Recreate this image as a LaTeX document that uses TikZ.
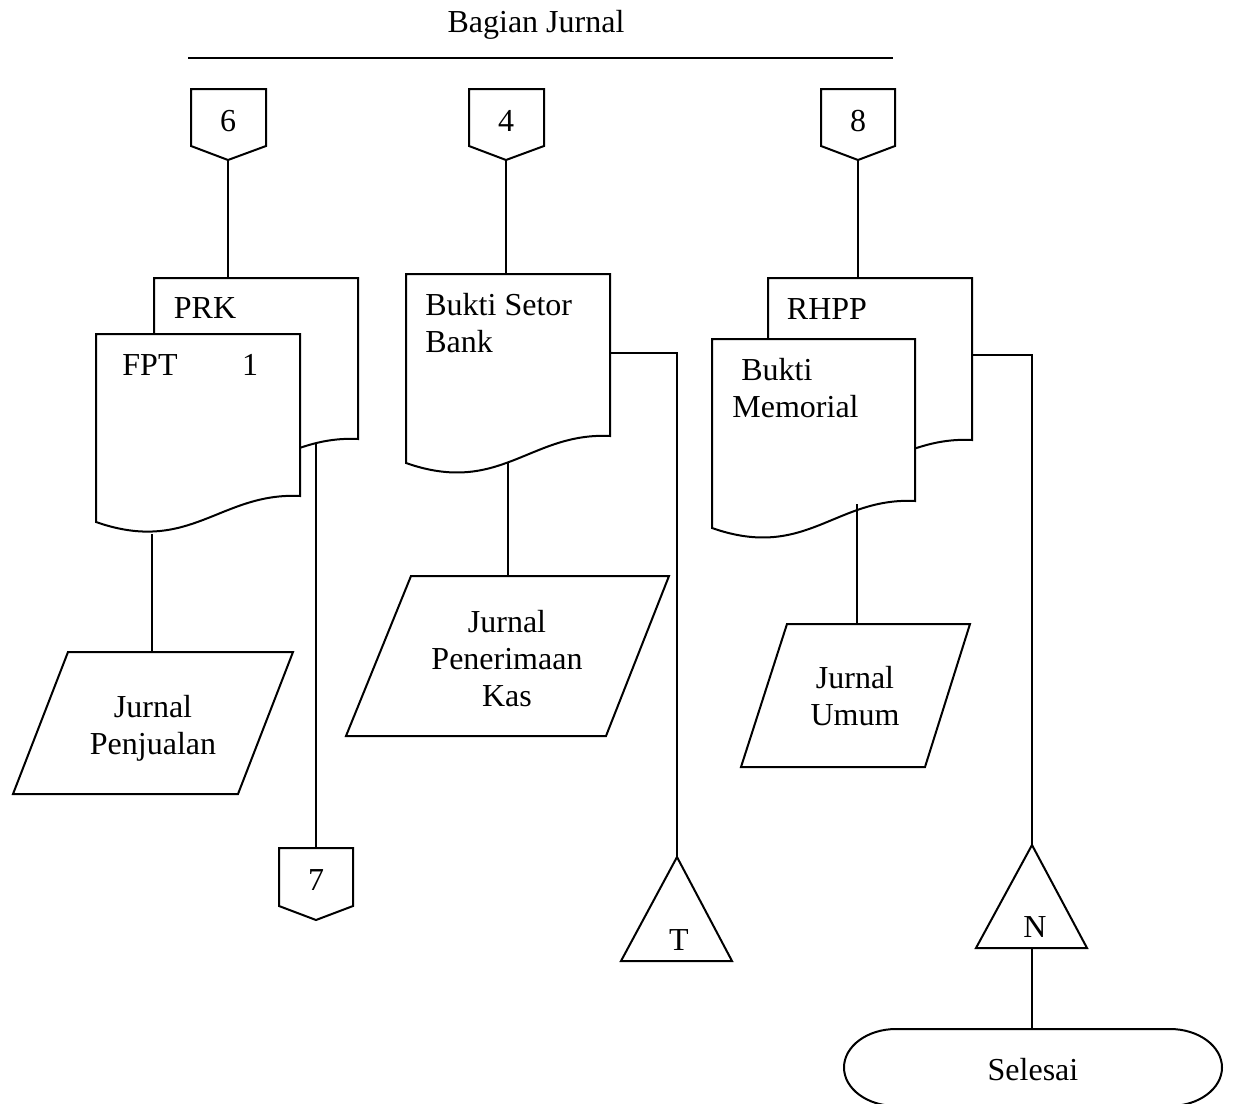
\documentclass[tikz,border=0pt]{standalone}
\usepackage{fontspec}
\setmainfont{Liberation Serif}
\usetikzlibrary{positioning}

\tikzstyle{garis} = [line width=1pt]
\tikzstyle{bentuk} = [draw, line width=1pt, fill=white]
\tikzstyle{teks} = [inner sep=0pt, font=\fontsize{16}{18.5}\selectfont]
\tikzstyle{teksblok} = [teks, align=center, anchor=north]

\begin{document}
\begin{tikzpicture}[x=0.5pt, y=-0.5pt]
\useasboundingbox (0,0) rectangle (1233,1104);
%judul
\node[teks, anchor=base] (judul) at (536,32) {Bagian Jurnal};
\coordinate (judulkiri) at (188,58);
\coordinate (judulkanan) at (893,58);
\draw[garis] (judulkiri) -- (judulkanan);

%begin kolom1-PRK
\draw[bentuk] (191,89) -- (266,89) -- (266,146) -- (228,160) coordinate (k6) -- (191,146) -- cycle;
\node[teks, anchor=base] (n6) at (228,131) {6};
%dokumen PRK (belakang)
\draw[bentuk] (154,278) -- (228,278) coordinate (prkatas) -- (358,278) -- (358,439)
    .. controls +(-80,-4) and +(94,33) .. (154,465) -- cycle;
\node[teks, anchor=base] (prk) at (205,318) {PRK};
%dokumen FPT (depan)
\draw[bentuk] (96,334) -- (300,334) -- (300,496)
    .. controls +(-80,-4) and +(94,33) .. (96,522) -- cycle;
\node[teks, anchor=base] (fpt) at (150,375) {FPT};
\node[teks, anchor=base] (fptsatu) at (250,375) {1};
\coordinate (fptbawah) at (152,534);
\coordinate (prkbawah) at (316,444);
%jurnal penjualan
\draw[bentuk] (68,652) -- (152,652) coordinate (jpatas) -- (293,652) -- (238,794) -- (13,794) -- cycle;
\node[teksblok] (jp) at (153,695) {Jurnal\\Penjualan};
%penghubung 7
\draw[bentuk] (316,848) coordinate (k7) -- (353,848) -- (353,906) -- (316,920) -- (279,906) -- (279,848) -- cycle;
\node[teks, anchor=base] (n7) at (316,890) {7};
\draw[garis] (k6) -- (prkatas);
\draw[garis] (fptbawah) -- (jpatas);
\draw[garis] (prkbawah) -- (k7);
%end kolom1-PRK

%begin kolom2-BSB
\draw[bentuk] (469,89) -- (544,89) -- (544,146) -- (506,160) coordinate (k4) -- (469,146) -- cycle;
\node[teks, anchor=base] (n4) at (506,131) {4};
%dokumen bukti setor bank
\draw[bentuk] (406,274) -- (506,274) coordinate (bsbatas) -- (610,274) -- (610,436)
    .. controls +(-80,-4) and +(94,33) .. (406,463) -- cycle;
\node[teks, align=left, anchor=north west] (bsb) at (425,293) {Bukti Setor\\Bank};
\coordinate (bsbbawah) at (508,462);
\coordinate (bsbkanan) at (610,353);
\coordinate (bsbbelok) at (677,353);
%jurnal penerimaan kas
\draw[bentuk] (411,576) -- (508,576) coordinate (jpkatas) -- (669,576) -- (606,736) -- (346,736) -- cycle;
\node[teksblok] (jpk) at (507,610) {Jurnal\\Penerimaan\\Kas};
%arsip T
\draw[bentuk] (677,857) coordinate (arsipt) -- (732,961) -- (621,961) -- cycle;
\node[teks, anchor=base] (nt) at (679,950) {T};
\draw[garis] (k4) -- (bsbatas);
\draw[garis] (bsbbawah) -- (jpkatas);
\draw[garis] (bsbkanan) -- (bsbbelok) -- (arsipt);
%end kolom2-BSB

%begin kolom3-RHPP
\draw[bentuk] (821,89) -- (895,89) -- (895,146) -- (858,160) coordinate (k8) -- (821,146) -- cycle;
\node[teks, anchor=base] (n8) at (858,131) {8};
%dokumen RHPP (belakang)
\draw[bentuk] (768,278) -- (858,278) coordinate (rhppatas) -- (972,278) -- (972,440)
    .. controls +(-80,-4) and +(94,33) .. (768,466) -- cycle;
\node[teks, anchor=base] (rhpp) at (827,319) {RHPP};
%dokumen bukti memorial (depan)
\draw[bentuk] (712,339) -- (915,339) -- (915,501)
    .. controls +(-80,-4) and +(94,33) .. (712,528) -- cycle;
\node[teks, align=left, anchor=north west] (bm) at (732,358) {\hspace*{4.5pt}Bukti\\Memorial};
\coordinate (bmbawah) at (857,504);
\coordinate (rhppkanan) at (972,355);
\coordinate (rhppbelok) at (1032,355);
%jurnal umum
\draw[bentuk] (787,624) -- (857,624) coordinate (juatas) -- (970,624) -- (925,767) -- (741,767) -- cycle;
\node[teksblok] (ju) at (855,666) {Jurnal\\Umum};
%arsip N
\draw[bentuk] (1032,845) coordinate (arsipn) -- (1087,948) -- (1032,948) coordinate (arsipnbawah) -- (976,948) -- cycle;
\node[teks, anchor=base] (nn) at (1035,937) {N};
%selesai
\draw[bentuk] (896,1029) -- (1032,1029) coordinate (selesaiatas) -- (1170,1029)
    arc[x radius=26pt, y radius=19.25pt, start angle=90, end angle=-90] -- (896,1106)
    arc[x radius=26pt, y radius=19.25pt, start angle=270, end angle=90] -- cycle;
\node[teks, anchor=base] (selesai) at (1033,1080) {Selesai};
\draw[garis] (k8) -- (rhppatas);
\draw[garis] (bmbawah) -- (juatas);
\draw[garis] (rhppkanan) -- (rhppbelok) -- (arsipn);
\draw[garis] (arsipnbawah) -- (selesaiatas);
%end kolom3-RHPP
\end{tikzpicture}
\end{document}
